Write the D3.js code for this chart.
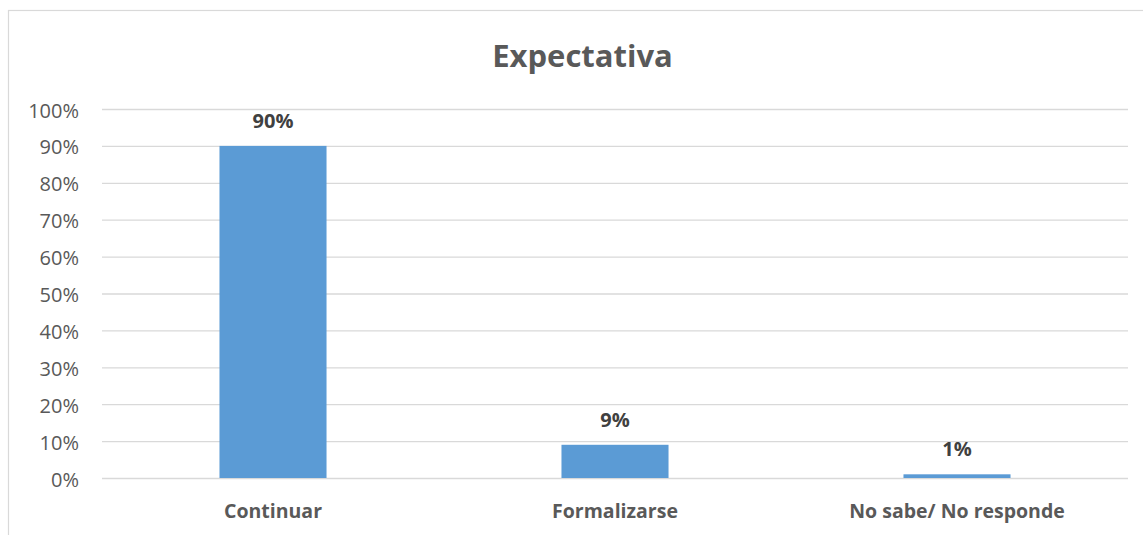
<!DOCTYPE html>
<html><head><meta charset="utf-8">
<script src="https://cdn.jsdelivr.net/npm/d3@7/dist/d3.min.js"></script>
<style>
html,body{margin:0;padding:0;background:#fff;}
svg{display:block;font-family:"Open Sans",sans-serif;}
</style></head>
<body>
<svg id="chart" width="1143" height="535"></svg>
<script>
const categories = ["Continuar", "Formalizarse", "No sabe/ No responde"];
const values = [0.90, 0.09, 0.01];
const valueLabels = ["90%", "9%", "1%"];
const yTicks = [0, 0.1, 0.2, 0.3, 0.4, 0.5, 0.6, 0.7, 0.8, 0.9, 1.0];
const title = "Expectativa";

const svg = d3.select("#chart");
const W = 1143, H = 535;
const plot = {left: 102, right: 1128, top: 109, bottom: 478};
const textColor = "#595959", gridColor = "#D9D9D9", barColor = "#5B9BD5";

// frame
svg.append("rect").attr("x", 8.5).attr("y", 10.5).attr("width", 1160).attr("height", 560)
  .attr("fill", "#fff").attr("stroke", gridColor).attr("stroke-width", 1.2);

const x = d3.scaleBand().domain(categories).range([plot.left, plot.right])
  .paddingInner(0.687).paddingOuter(0.3435);
const y = d3.scaleLinear().domain([0, 1]).range([plot.bottom, plot.top]);

// y axis with gridlines
const yAxis = d3.axisLeft(y).tickValues(yTicks).tickFormat(d3.format(".0%"))
  .tickSize(-(plot.right - plot.left)).tickPadding(23);
const gy = svg.append("g").attr("transform", `translate(${plot.left},0)`).call(yAxis);
gy.select(".domain").remove();
gy.selectAll(".tick line").attr("stroke", gridColor).attr("stroke-width", 1.3);
gy.selectAll(".tick text").attr("fill", textColor).attr("font-size", 20)
  .attr("font-family", "'Open Sans',sans-serif").attr("dy", "0.4em");

// bars
svg.append("g").selectAll("rect").data(values).join("rect")
  .attr("x", (d, i) => x(categories[i]))
  .attr("width", x.bandwidth())
  .attr("y", d => y(d))
  .attr("height", d => y(0) - y(d))
  .attr("fill", barColor);

// value labels
svg.append("g").selectAll("text").data(values).join("text")
  .attr("x", (d, i) => x(categories[i]) + x.bandwidth() / 2)
  .attr("y", d => y(d) - 18)
  .attr("text-anchor", "middle")
  .attr("font-size", 20).attr("font-weight", "bold").attr("fill", "#404040")
  .text((d, i) => valueLabels[i]);

// x axis
const xAxis = d3.axisBottom(x).tickSize(0).tickPadding(26);
const gx = svg.append("g").attr("transform", `translate(0,${plot.bottom})`).call(xAxis);
gx.select(".domain").remove();
gx.selectAll(".tick text").attr("fill", textColor).attr("font-size", 19.5)
  .attr("font-weight", "bold").attr("font-family", "'Open Sans',sans-serif");

// title
svg.append("text").attr("x", 582.5).attr("y", 67).attr("text-anchor", "middle")
  .attr("font-size", 31).attr("font-weight", "bold").attr("fill", textColor)
  .text(title);
</script>
</body></html>
